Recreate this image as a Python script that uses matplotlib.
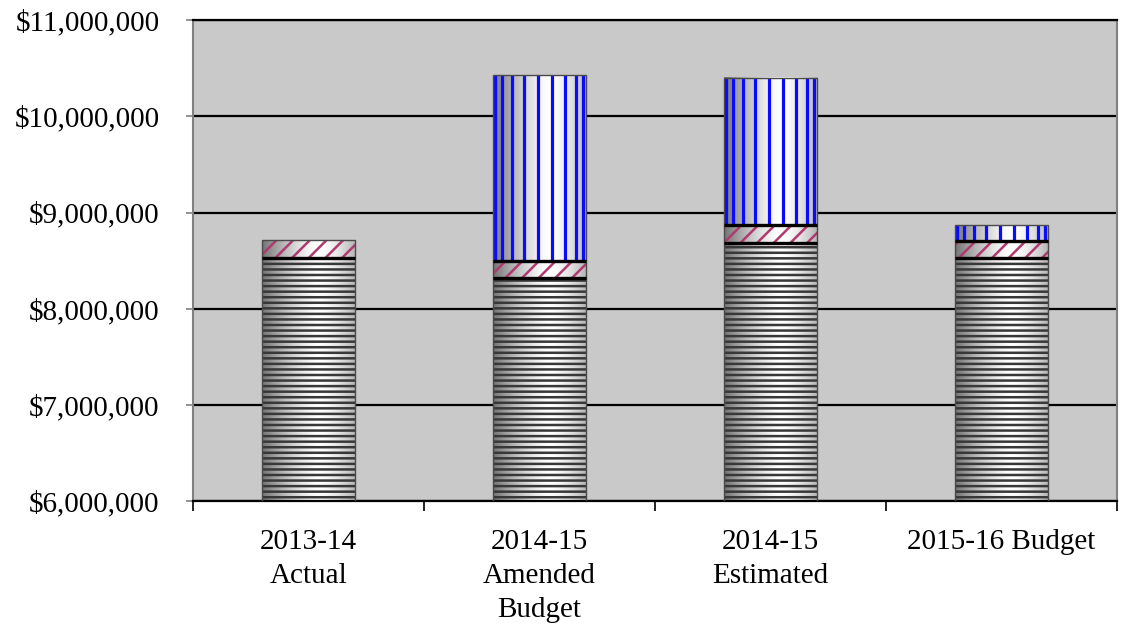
import numpy as np
import matplotlib
matplotlib.use("Agg")
from matplotlib import pyplot as plt
from matplotlib.ticker import FuncFormatter, FixedLocator

plt.rcParams['font.family'] = ['Liberation Serif', 'DejaVu Serif']
plt.rcParams['hatch.linewidth'] = 1.8

# budget totals by fiscal year, split into three stacked pieces
years = ['2013-14\nActual', '2014-15\nAmended\nBudget', '2014-15\nEstimated', '2015-16 Budget']
base = [8526000, 8318000, 8682000, 8526000]
mid = [187000, 177000, 187000, 177000]
top = [0, 1933000, 1528000, 166000]

fig = plt.figure(figsize=(11.22, 6.28), dpi=100)
ax = fig.add_axes([0.172, 0.202, 0.8235, 0.766])
ax.set_facecolor('#c9c9c9')

x = np.arange(len(years))
width = 0.405
base = np.array(base)
mid = np.array(mid)
top = np.array(top)

# cylinder shading used behind each bar piece
t = np.linspace(0, 1, 300)
peak = 0.6
shade = np.where(t < peak,
                 1 - 0.55 * ((peak - t) / peak) ** 1.4,
                 1 - 0.3 * ((t - peak) / (1 - peak)) ** 1.6)
shade_img = np.tile(shade, (2, 1))


def shaded(bars):
    for b in bars:
        if b.get_height() <= 0:
            continue
        x0, y0 = b.get_x(), b.get_y()
        ax.imshow(shade_img, cmap='gray', vmin=0, vmax=1, aspect='auto',
                  extent=(x0, x0 + b.get_width(), y0, y0 + b.get_height()),
                  zorder=2, interpolation='bilinear')


b1 = ax.bar(x, base, width, color='none', zorder=3)
b2 = ax.bar(x, mid, width, bottom=base, color='none', zorder=3)
b3 = ax.bar(x, top, width, bottom=base + mid, color='none', zorder=3)
for bars in (b1, b2, b3):
    shaded(bars)

# patterns: horizontal lines, red slashes, blue verticals
ax.bar(x, base, width, facecolor='none', edgecolor='#383838', hatch='---', lw=0, zorder=3)
ax.bar(x, mid, width, bottom=base, facecolor='none', edgecolor='#b03a6e', hatch='//', lw=0, zorder=3)

phi = np.linspace(-1.22, 1.22, 9) - 0.03
u = 0.5 + 0.5 * np.sin(phi)
for xi, lo, h in zip(x, base + mid, top):
    if h <= 0:
        continue
    ax.vlines(xi - width / 2 + u * width, lo, lo + h, colors='#0a0aff', lw=2.3, zorder=4)

# outlines and dividing lines
for bars in (b1, b2, b3):
    for b in bars:
        if b.get_height() <= 0:
            continue
        ax.add_patch(plt.Rectangle((b.get_x(), b.get_y()), b.get_width(), b.get_height(),
                                   fill=False, edgecolor='#4a4a4a', lw=1.0, zorder=5))
ax.hlines(base, x - width / 2, x + width / 2, colors='black', lw=2.4, zorder=6)
ax.hlines((base + mid)[top > 0], (x - width / 2)[top > 0], (x + width / 2)[top > 0],
          colors='black', lw=2.4, zorder=6)

ax.set_xlim(-0.5, 3.5)
ax.set_ylim(6000000, 11000000)
ax.set_yticks(np.arange(6000000, 11000001, 1000000))
ax.yaxis.set_major_formatter(FuncFormatter(lambda v, p: '${:,.0f}'.format(v)))
ax.yaxis.grid(True, color='black', lw=1.6, zorder=1)
ax.set_axisbelow(True)

ax.set_xticks(x)
ax.set_xticklabels(years, linespacing=1.4)
ax.xaxis.set_minor_locator(FixedLocator(np.arange(-0.5, 4, 1)))
ax.tick_params(axis='x', which='major', length=0, pad=20, labelsize=21)
ax.tick_params(axis='x', which='minor', length=7, width=1.2, color='black', direction='out')
ax.tick_params(axis='y', length=5, width=1.2, color='#808080', pad=19, labelsize=21)

for s in ('left', 'right'):
    ax.spines[s].set_color('#808080')
    ax.spines[s].set_linewidth(1.5)
ax.spines['bottom'].set_color('black')
ax.spines['bottom'].set_linewidth(1.6)
ax.spines['top'].set_color('black')
ax.spines['top'].set_linewidth(1.6)

plt.savefig('out.png', dpi=100)
